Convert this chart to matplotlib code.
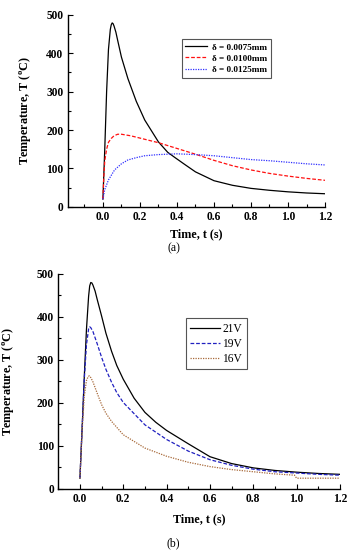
import numpy as np
import matplotlib
matplotlib.use("Agg")
import matplotlib.pyplot as plt
from matplotlib.ticker import MultipleLocator

plt.rcParams['font.family'] = ['Liberation Serif', 'DejaVu Serif']
plt.rcParams['mathtext.fontset'] = 'custom'
plt.rcParams['mathtext.rm'] = 'Liberation Serif'
plt.rcParams['mathtext.bf'] = 'Liberation Serif:bold'

# (a) film thickness
t_a1 = [0.0, 0.01, 0.02, 0.03, 0.04, 0.045, 0.05, 0.055, 0.06, 0.07, 0.08, 0.1, 0.135, 0.18,
        0.226, 0.3, 0.35, 0.39, 0.44, 0.5, 0.6, 0.7, 0.8, 0.9, 1.0, 1.1, 1.2]
T_a1 = [20, 150, 300, 410, 462, 474, 479, 477, 471, 455, 433, 390, 334, 275,
        226, 169, 142, 128, 111, 91, 68, 56, 48, 43, 39, 36, 34]
t_a2 = [0.0, 0.005, 0.01, 0.02, 0.03, 0.045, 0.06, 0.08, 0.1, 0.15, 0.2, 0.3, 0.4, 0.5,
        0.6, 0.7, 0.8, 0.9, 1.0, 1.1, 1.2]
T_a2 = [20, 80, 120, 150, 168, 178, 185, 189, 189, 185, 179, 167, 152, 137,
        121, 107, 96, 87, 80, 74, 69]
t_a3 = [0.0, 0.01, 0.03, 0.063, 0.1, 0.135, 0.18, 0.226, 0.3, 0.4, 0.5, 0.6, 0.7, 0.8,
        0.9, 1.0, 1.1, 1.2]
T_a3 = [20, 45, 70, 96, 112, 122, 128, 133, 136, 138, 136, 133, 128, 123,
        120, 116, 112, 109]
labels_a = ['δ = 0.0075mm', 'δ = 0.0100mm', 'δ = 0.0125mm']

# (b) voltage
t_b1 = [0.0, 0.01, 0.02, 0.03, 0.04, 0.045, 0.05, 0.055, 0.06, 0.07, 0.08, 0.1, 0.12, 0.146,
        0.17, 0.2, 0.25, 0.3, 0.35, 0.4, 0.5, 0.6, 0.7, 0.8, 0.9, 1.0, 1.1, 1.2]
T_b1 = [25, 140, 260, 370, 448, 472, 480, 479, 474, 460, 440, 402, 362, 320,
        287, 255, 211, 178, 155, 136, 105, 75, 59, 49, 43, 39, 36, 34]
t_b2 = [0.0, 0.01, 0.02, 0.03, 0.04, 0.045, 0.05, 0.06, 0.08, 0.1, 0.12, 0.146, 0.17, 0.2,
        0.3, 0.4, 0.5, 0.6, 0.7, 0.8, 0.9, 1.0, 1.1, 1.2]
T_b2 = [25, 140, 255, 335, 372, 377, 375, 366, 337, 306, 278, 248, 224, 201,
        149, 115, 88, 68, 55, 46, 40, 37, 34, 32]
t_b3 = [0.0, 0.01, 0.02, 0.03, 0.038, 0.043, 0.05, 0.06, 0.08, 0.1, 0.12, 0.146, 0.2, 0.3,
        0.4, 0.5, 0.6, 0.7, 0.8, 0.9, 0.99, 1.0, 1.2]
T_b3 = [25, 135, 215, 252, 261, 263, 259, 249, 222, 196, 176, 157, 126, 95,
        76, 62, 52, 45, 40, 35, 32, 25, 25]
labels_b = ['21V', '19V', '16V']

fig = plt.figure(figsize=(3.51, 5.50), dpi=100)
ax1 = fig.add_axes([0.193, 0.624, 0.733, 0.349])
ax2 = fig.add_axes([0.166, 0.111, 0.8026, 0.391])

ax1.plot(t_a1, T_a1, color='black', lw=0.9, ls='-', label=labels_a[0])
ax1.plot(t_a2, T_a2, color='#ff1010', lw=0.9, ls=(0, (3, 1.5)), label=labels_a[1])
ax1.plot(t_a3, T_a3, color='#3030ff', lw=0.9, ls=(0, (1, 1)), label=labels_a[2])
ax1.set_xlim(-0.19, 1.2)

ax2.plot(t_b1, T_b1, color='black', lw=0.9, ls='-', label=labels_b[0])
ax2.plot(t_b2, T_b2, color='#2020c0', lw=0.9, ls=(0, (3, 1.5)), label=labels_b[1])
ax2.plot(t_b3, T_b3, color='#a86a3a', lw=0.9, ls=(0, (1, 1)), label=labels_b[2])
ax2.set_xlim(-0.1, 1.2)

for ax in (ax1, ax2):
    ax.set_ylim(0, 500)
    ax.spines['top'].set_visible(False)
    ax.spines['right'].set_visible(False)
    for s in ('left', 'bottom'):
        ax.spines[s].set_linewidth(1.0)
    ax.xaxis.set_major_locator(MultipleLocator(0.2))
    ax.xaxis.set_minor_locator(MultipleLocator(0.1))
    ax.yaxis.set_major_locator(MultipleLocator(100))
    ax.yaxis.set_minor_locator(MultipleLocator(50))
    ax.tick_params(which='both', direction='in', width=0.8)
    ax.tick_params(which='major', length=3.5, labelsize=8.3, pad=3)
    ax.tick_params(which='minor', length=2)
    ax.set_xticks([0.0, 0.2, 0.4, 0.6, 0.8, 1.0, 1.2])
    ax.set_xticklabels(['0.0', '0.2', '0.4', '0.6', '0.8', '1.0', '1.2'])
    for lab in ax.get_xticklabels() + ax.get_yticklabels():
        lab.set_fontweight('bold')
    ax.set_xlabel('Time, t (s)', fontsize=8.7, fontweight='bold')
    ax.set_ylabel(r'Temperature, T ($^{\mathbf{o}}$C)', fontsize=8.7, fontweight='bold')

ax1.xaxis.set_label_coords(0.5, -0.11)
ax1.yaxis.set_label_coords(-0.133, 0.5)
ax2.xaxis.set_label_coords(0.5, -0.115)
ax2.yaxis.set_label_coords(-0.145, 0.5)

leg1 = ax1.legend(loc='upper left', bbox_to_anchor=(0.443, 0.872), fancybox=False,
                  edgecolor='#555555', framealpha=1, handlelength=2.4, handletextpad=0.5,
                  borderpad=0.4, labelspacing=0.3, borderaxespad=0,
                  prop={'weight': 'bold', 'size': 6.6})
leg1.get_frame().set_linewidth(0.8)
leg2 = ax2.legend(loc='upper left', bbox_to_anchor=(0.452, 0.794), fancybox=False,
                  edgecolor='#555555', framealpha=1, handlelength=2.6, handletextpad=0.2,
                  borderpad=0.4, labelspacing=0.25, borderaxespad=0, prop={'size': 8.3})
leg2.get_frame().set_linewidth(0.8)

fig.text(0.495, 0.549, '(a)', ha='center', va='center', fontsize=8.5)
fig.text(0.495, 0.013, '(b)', ha='center', va='center', fontsize=8.5)

fig.savefig('out.png', dpi=100)
